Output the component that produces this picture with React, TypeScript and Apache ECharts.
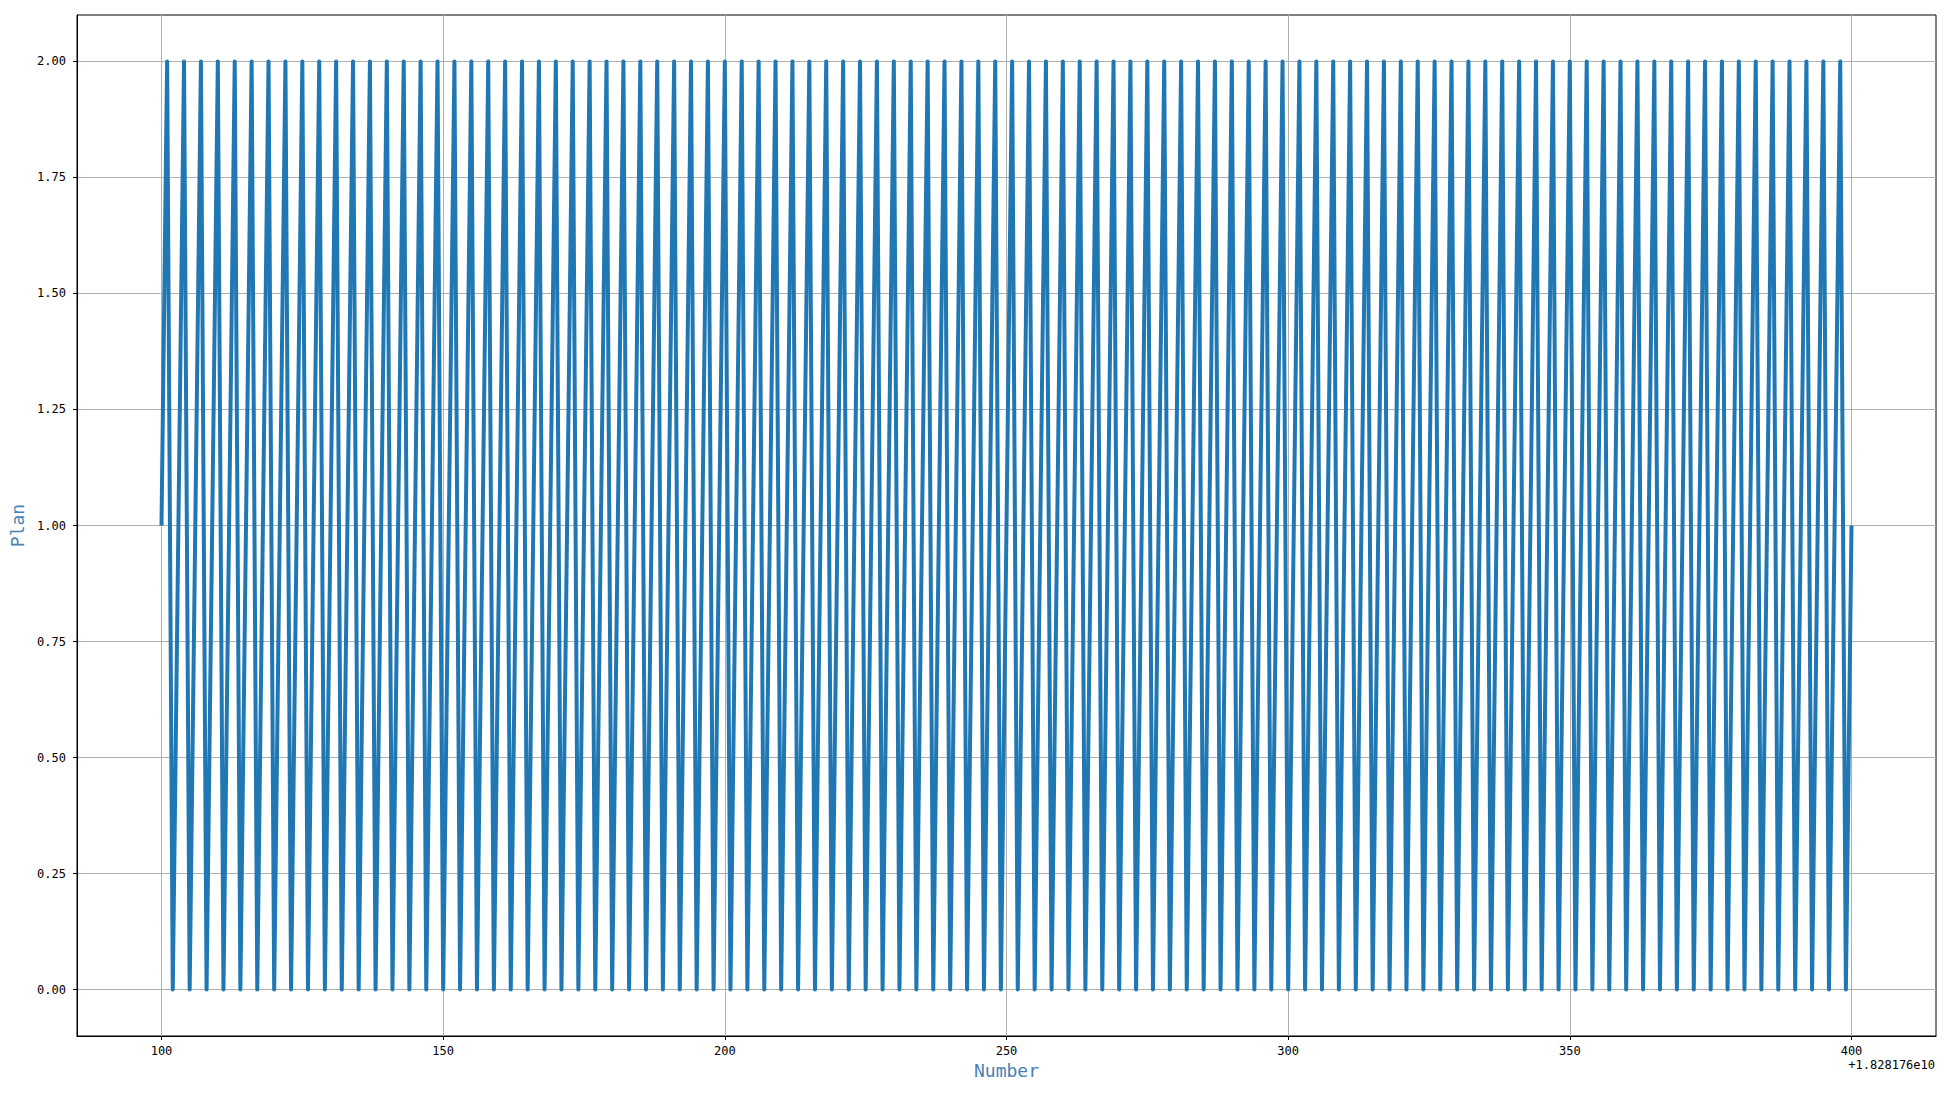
import React, { useEffect, useRef } from 'react';
import * as echarts from 'echarts';

// x values are shown with matplotlib-style offset text
const X_START = 100;
const X_OFFSET_TEXT = '+1.828176e10';

// Plan value for each Number, from X_START onward
const planValues = [
  1, 2, 0, 1, 2, 0, 1, 2, 0, 1, 2, 0, 1, 2, 0, 1, 2, 0, 1, 2, 0, 1, 2, 0, 1, 2, 0, 1, 2, 0,
  1, 2, 0, 1, 2, 0, 1, 2, 0, 1, 2, 0, 1, 2, 0, 1, 2, 0, 1, 2, 0, 1, 2, 0, 1, 2, 0, 1, 2, 0,
  1, 2, 0, 1, 2, 0, 1, 2, 0, 1, 2, 0, 1, 2, 0, 1, 2, 0, 1, 2, 0, 1, 2, 0, 1, 2, 0, 1, 2, 0,
  1, 2, 0, 1, 2, 0, 1, 2, 0, 1, 2, 0, 1, 2, 0, 1, 2, 0, 1, 2, 0, 1, 2, 0, 1, 2, 0, 1, 2, 0,
  1, 2, 0, 1, 2, 0, 1, 2, 0, 1, 2, 0, 1, 2, 0, 1, 2, 0, 1, 2, 0, 1, 2, 0, 1, 2, 0, 1, 2, 0,
  1, 2, 0, 1, 2, 0, 1, 2, 0, 1, 2, 0, 1, 2, 0, 1, 2, 0, 1, 2, 0, 1, 2, 0, 1, 2, 0, 1, 2, 0,
  1, 2, 0, 1, 2, 0, 1, 2, 0, 1, 2, 0, 1, 2, 0, 1, 2, 0, 1, 2, 0, 1, 2, 0, 1, 2, 0, 1, 2, 0,
  1, 2, 0, 1, 2, 0, 1, 2, 0, 1, 2, 0, 1, 2, 0, 1, 2, 0, 1, 2, 0, 1, 2, 0, 1, 2, 0, 1, 2, 0,
  1, 2, 0, 1, 2, 0, 1, 2, 0, 1, 2, 0, 1, 2, 0, 1, 2, 0, 1, 2, 0, 1, 2, 0, 1, 2, 0, 1, 2, 0,
  1, 2, 0, 1, 2, 0, 1, 2, 0, 1, 2, 0, 1, 2, 0, 1, 2, 0, 1, 2, 0, 1, 2, 0, 1, 2, 0, 1, 2, 0,
  1,
];

const xTicks = [100, 150, 200, 250, 300, 350, 400];
const yTicks = [0, 0.25, 0.5, 0.75, 1.0, 1.25, 1.5, 1.75, 2.0];

const MONO = '"DejaVu Sans Mono", monospace';

export default function App() {
  const chartRef = useRef<HTMLDivElement>(null);

  useEffect(() => {
    if (!chartRef.current) return;
    const chart = echarts.init(chartRef.current, null, { renderer: 'svg' });

    const gridLine = { show: true, lineStyle: { color: '#b0b0b0', width: 1 } };

    chart.setOption({
      animation: false,
      backgroundColor: '#fff',
      grid: {
        left: 77,
        right: 14,
        top: 15,
        bottom: 60,
        show: true,
        borderColor: '#000',
        borderWidth: 1,
      },
      xAxis: {
        type: 'value',
        min: 85,
        max: 415,
        name: 'Number',
        nameLocation: 'middle',
        nameGap: 23,
        nameTextStyle: { color: '#4682b4', fontSize: 18, fontFamily: MONO },
        axisLine: { onZero: false, lineStyle: { color: '#000', width: 1 } },
        axisTick: { show: true, length: 4, customValues: xTicks, lineStyle: { color: '#000' } },
        axisLabel: {
          customValues: xTicks,
          margin: 9,
          color: '#000',
          fontSize: 12,
          fontFamily: MONO,
        },
        splitLine: gridLine,
      },
      yAxis: {
        type: 'value',
        min: -0.1,
        max: 2.1,
        name: 'Plan',
        nameLocation: 'middle',
        nameRotate: 90,
        nameGap: 45,
        nameTextStyle: { color: '#4682b4', fontSize: 18, fontFamily: MONO },
        axisLine: { show: true, onZero: false, lineStyle: { color: '#000', width: 1 } },
        axisTick: { show: true, length: 4, customValues: yTicks, lineStyle: { color: '#000' } },
        axisLabel: {
          customValues: yTicks,
          margin: 11,
          color: '#000',
          fontSize: 12,
          fontFamily: MONO,
          formatter: (v: number) => v.toFixed(2),
        },
        splitLine: gridLine,
      },
      graphic: [
        {
          type: 'text',
          right: 15,
          top: 1059,
          style: {
            text: X_OFFSET_TEXT,
            fill: '#000',
            fontSize: 12,
            fontFamily: MONO,
          },
        },
      ],
      series: [
        {
          type: 'line',
          data: planValues.map((v, i) => [X_START + i, v]),
          showSymbol: false,
          lineStyle: { color: '#1f77b4', width: 4, join: 'round' },
          itemStyle: { color: '#1f77b4' },
        },
      ],
    });

    const handleResize = () => chart.resize();
    window.addEventListener('resize', handleResize);
    return () => {
      window.removeEventListener('resize', handleResize);
      chart.dispose();
    };
  }, []);

  return (
    <div style={{ position: 'fixed', left: 0, top: 0, width: 1950, height: 1096 }}>
      <div ref={chartRef} style={{ width: '100%', height: '100%' }} />
    </div>
  );
}
